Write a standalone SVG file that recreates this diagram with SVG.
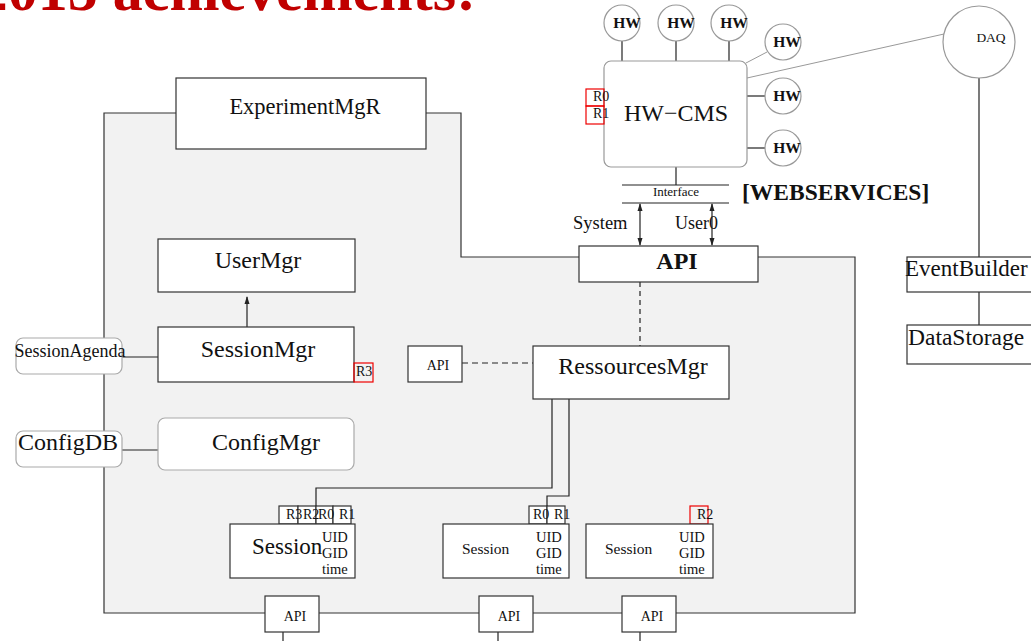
<svg xmlns="http://www.w3.org/2000/svg" width="1031" height="641" viewBox="0 0 1031 641">
<style>
text{font-family:"Liberation Serif","Times New Roman",serif;fill:#111}
.b{fill:#fff;stroke:#333;stroke-width:1.2}
.r{fill:none;stroke:#e00;stroke-width:1.2}
.l{fill:none;stroke:#222;stroke-width:1.2}
.g{fill:none;stroke:#999;stroke-width:1}
.rb{fill:#fff;stroke:#aaa;stroke-width:1.2}
.c{fill:#fff;stroke:#999;stroke-width:1.2}
.hw{font-size:15.5px;font-weight:bold;text-anchor:middle}
.m{font-size:24px;text-anchor:middle}
.s{font-size:14.5px}
</style>
<defs>
<marker id="ah" viewBox="0 0 8 8" refX="7" refY="4" markerWidth="7" markerHeight="7" orient="auto-start-reverse">
<path d="M0,1.5 L8,4 L0,6.5 z" fill="#222"/>
</marker>
</defs>
<rect width="1031" height="641" fill="#fff"/>
<text x="476" y="10" font-size="60" font-weight="bold" text-anchor="end" style="fill:#c00000">2015 achievements!</text>

<g id="panel">
<path d="M104,113 H461 V257 H855 V613 H104 Z" fill="#f2f2f2" stroke="#333" stroke-width="1.2"/>
</g>

<g id="connectors">
<line class="l" x1="622" y1="41" x2="622" y2="61"/>
<line class="l" x1="676" y1="41" x2="676" y2="61"/>
<line class="l" x1="729" y1="41" x2="729" y2="61"/>
<line class="g" x1="746" y1="63" x2="767" y2="52"/>
<line class="l" x1="747" y1="96" x2="765" y2="96"/>
<line class="l" x1="747" y1="148" x2="765" y2="148"/>
<line class="g" x1="747" y1="78" x2="944" y2="34"/>
<line class="l" x1="979" y1="78" x2="979" y2="257"/>
<line class="l" x1="979" y1="292" x2="979" y2="325"/>
<line class="l" x1="676" y1="167" x2="676" y2="185"/>
<line class="l" x1="640" y1="204" x2="640" y2="245" marker-start="url(#ah)" marker-end="url(#ah)"/>
<line class="l" x1="712" y1="204" x2="712" y2="245" marker-start="url(#ah)" marker-end="url(#ah)"/>
<line class="l" x1="640" y1="282" x2="640" y2="346" stroke-dasharray="5,4"/>
<line class="l" x1="462" y1="363" x2="533" y2="363" stroke-dasharray="6,4"/>
<line class="l" x1="247" y1="327" x2="247" y2="297" marker-end="url(#ah)"/>
<line class="l" x1="122" y1="357" x2="158" y2="357"/>
<line class="l" x1="122" y1="450" x2="158" y2="450"/>
<path class="l" d="M552,399 V488 H316 V506"/>
<path class="l" d="M569,399 V496 H547 V506"/>
<line class="l" x1="283" y1="632" x2="283" y2="641"/>
<line class="l" x1="498" y1="632" x2="498" y2="641"/>
<line class="l" x1="640" y1="632" x2="640" y2="641"/>
</g>

<g id="hw1"><circle class="c" cx="622" cy="23" r="18"/><text class="hw" x="627" y="28">HW</text></g>
<g id="hw2"><circle class="c" cx="676" cy="23" r="18"/><text class="hw" x="681" y="28">HW</text></g>
<g id="hw3"><circle class="c" cx="729" cy="23" r="18"/><text class="hw" x="734" y="28">HW</text></g>
<g id="hw4"><circle class="c" cx="783" cy="42" r="18"/><text class="hw" x="787" y="47">HW</text></g>
<g id="hw5"><circle class="c" cx="783" cy="96" r="18"/><text class="hw" x="787" y="101">HW</text></g>
<g id="hw6"><circle class="c" cx="783" cy="148" r="18"/><text class="hw" x="787" y="153">HW</text></g>
<g id="daq"><circle class="c" cx="979" cy="42" r="36"/><text x="991" y="42" font-size="13.5" text-anchor="middle">DAQ</text></g>

<g id="hwcms">
<rect class="c" x="604" y="61" width="143" height="106" rx="7"/>
<text x="676" y="121" font-size="24" text-anchor="middle">HW−CMS</text>
<rect class="r" x="586" y="89" width="18" height="17"/>
<rect class="r" x="586" y="106" width="18" height="18"/>
<text x="593" y="101" font-size="14">R0</text>
<text x="593" y="118" font-size="14">R1</text>
</g>

<g id="interface">
<line class="l" x1="622" y1="185" x2="729" y2="185"/>
<line class="l" x1="622" y1="203" x2="729" y2="203"/>
<text x="676" y="196" font-size="13" text-anchor="middle">Interface</text>
</g>
<text x="742" y="200" font-size="23.5" font-weight="bold">[WEBSERVICES]</text>
<text x="573" y="229" font-size="18.5">System</text>
<text x="675" y="229" font-size="18">User0</text>

<g id="api-main">
<rect class="b" x="579" y="246" width="179" height="36"/>
<text x="677" y="269" font-size="24" font-weight="bold" text-anchor="middle">API</text>
</g>

<g id="experimentmgr">
<rect class="b" x="176" y="78" width="250" height="71"/>
<text x="305" y="114" font-size="22.5" text-anchor="middle">ExperimentMgR</text>
</g>

<g id="usermgr">
<rect class="b" x="158" y="239" width="197" height="53"/>
<text class="m" x="258" y="268">UserMgr</text>
</g>

<g id="sessionmgr">
<rect class="b" x="158" y="327" width="196" height="55"/>
<text class="m" x="258" y="357">SessionMgr</text>
<rect class="r" x="354" y="363" width="19" height="19"/>
<text x="356" y="376" font-size="14">R3</text>
</g>

<g id="sessionagenda">
<rect class="rb" x="16" y="338" width="106" height="36" rx="7"/>
<text x="70" y="357" font-size="18" text-anchor="middle">SessionAgenda</text>
</g>

<g id="configdb">
<rect class="rb" x="16" y="431" width="106" height="36" rx="7"/>
<text class="m" x="68" y="450">ConfigDB</text>
</g>

<g id="configmgr">
<rect class="rb" x="158" y="418" width="196" height="52" rx="7"/>
<text class="m" x="266" y="450">ConfigMgr</text>
</g>

<g id="api-small">
<rect class="b" x="408" y="346" width="54" height="36"/>
<text x="438" y="370" font-size="14" text-anchor="middle">API</text>
</g>

<g id="ressourcesmgr">
<rect class="b" x="533" y="346" width="196" height="53"/>
<text class="m" x="633" y="374">RessourcesMgr</text>
</g>

<g id="session1">
<rect class="b" x="279" y="506" width="19" height="18"/>
<rect class="b" x="298" y="506" width="18" height="18"/>
<rect class="b" x="316" y="506" width="17" height="18"/>
<rect class="b" x="333" y="506" width="18" height="18"/>
<text x="286" y="519" font-size="14">R3</text>
<text x="303" y="519" font-size="14">R2</text>
<text x="318" y="519" font-size="14">R0</text>
<text x="339" y="519" font-size="14">R1</text>
<rect class="b" x="230" y="524" width="125" height="54"/>
<text x="252" y="554" font-size="23">Session</text>
<text class="s" x="322" y="542">UID</text>
<text class="s" x="322" y="558">GID</text>
<text class="s" x="322" y="574">time</text>
</g>

<g id="session2">
<rect class="b" x="529" y="506" width="18" height="18"/>
<rect class="b" x="547" y="506" width="18" height="18"/>
<text x="533" y="519" font-size="14">R0</text>
<text x="554" y="519" font-size="14">R1</text>
<rect class="b" x="443" y="524" width="126" height="54"/>
<text x="462" y="554" font-size="15.5">Session</text>
<text class="s" x="536" y="542">UID</text>
<text class="s" x="536" y="558">GID</text>
<text class="s" x="536" y="574">time</text>
</g>

<g id="session3">
<rect class="r" x="690" y="506" width="18" height="18"/>
<text x="697" y="519" font-size="14">R2</text>
<rect class="b" x="586" y="524" width="127" height="54"/>
<text x="605" y="554" font-size="15.5">Session</text>
<text class="s" x="679" y="542">UID</text>
<text class="s" x="679" y="558">GID</text>
<text class="s" x="679" y="574">time</text>
</g>

<g id="api1"><rect class="b" x="265" y="596" width="54" height="36"/><text x="295" y="621" font-size="14" text-anchor="middle">API</text></g>
<g id="api2"><rect class="b" x="479" y="596" width="54" height="36"/><text x="509" y="621" font-size="14" text-anchor="middle">API</text></g>
<g id="api3"><rect class="b" x="622" y="596" width="54" height="36"/><text x="652" y="621" font-size="14" text-anchor="middle">API</text></g>

<g id="eventbuilder">
<rect class="b" x="907" y="257" width="130" height="35"/>
<text x="905" y="276" font-size="23">EventBuilder</text>
</g>
<g id="datastorage">
<rect class="b" x="907" y="325" width="130" height="39"/>
<text x="908" y="345" font-size="23.5">DataStorage</text>
</g>
</svg>
